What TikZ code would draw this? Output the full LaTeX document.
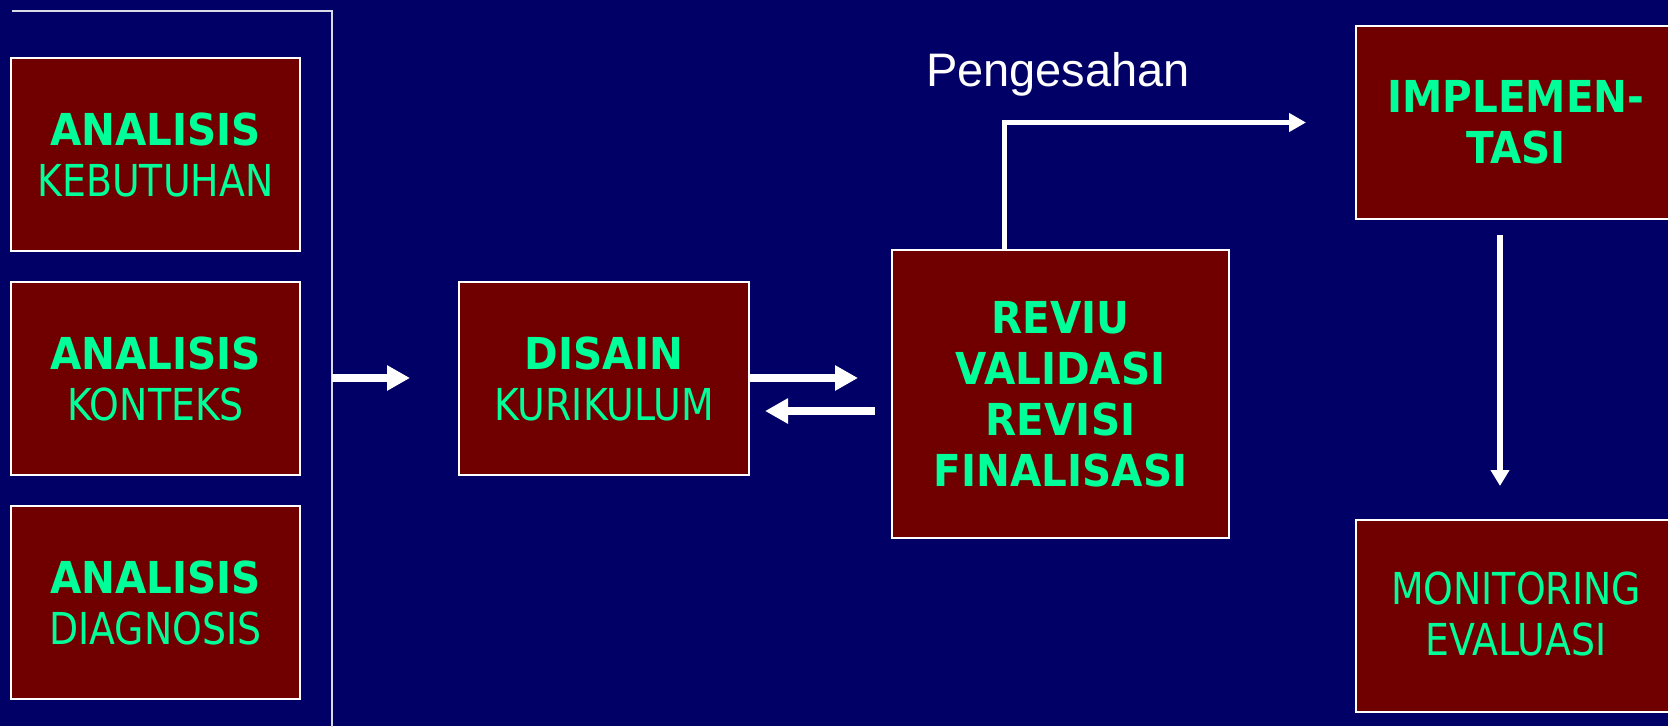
\documentclass[tikz,border=0pt]{standalone}
\usepackage{fontspec}
\usetikzlibrary{arrows.meta}
\newfontfamily\tahr[FakeStretch=0.86]{DejaVu Sans}
\newfontfamily\tahb[FakeStretch=0.92]{DejaVu Sans}
\newfontfamily\arialf{Liberation Sans}
\definecolor{bgnavy}{RGB}{0,0,102}
\definecolor{boxred}{RGB}{112,0,0}
\definecolor{boxgreen}{RGB}{0,255,153}
\newcommand{\bt}[1]{{\tahb\bfseries #1}}
\tikzset{
  blk/.style={draw=white, line width=2pt, fill=boxred, text=boxgreen,
    rectangle, inner sep=0pt, align=center,
    font=\fontsize{44}{51}\selectfont\tahr},
  bigarr/.style={draw=white, line width=8pt, -{Triangle[length=23pt,width=24pt]}},
  thinarr/.style={draw=white, line width=5pt, -{Triangle[length=17pt,width=18pt]}},
  bracketline/.style={draw=white!85!bgnavy, line width=2pt},
  lbl/.style={text=white, inner sep=0pt, font=\fontsize{47}{54}\selectfont\arialf}
}
\begin{document}
\begin{tikzpicture}[x=1pt,y=-1pt]
\useasboundingbox (0,0) rectangle (1668,726);
\fill[bgnavy] (0,0) rectangle (1668,726);
\clip (0,0) rectangle (1668,726);

% left bracket
\draw[bracketline] (12,10.5) -- (332,10.5) -- (332,740);
\coordinate (br) at (332,378);

% boxes
\node[blk, minimum width=289pt, minimum height=193pt] (a1) at (155.5,154.5) {\bt{ANALISIS}\\KEBUTUHAN};
\node[blk, minimum width=289pt, minimum height=193pt] (a2) at (155.5,378.5) {\bt{ANALISIS}\\KONTEKS};
\node[blk, minimum width=289pt, minimum height=193pt] (a3) at (155.5,602.5) {\bt{ANALISIS}\\DIAGNOSIS};
\node[blk, minimum width=290pt, minimum height=193pt] (dis) at (604,378.5) {\bt{DISAIN}\\KURIKULUM};
\node[blk, minimum width=337pt, minimum height=288pt] (rev) at (1060.5,394) {\bt{REVIU}\\\bt{VALIDASI}\\\bt{REVISI}\\\bt{FINALISASI}};
\node[blk, minimum width=320pt, minimum height=193pt] (imp) at (1516,122.5) {\bt{IMPLEMEN-}\\\bt{TASI}};
\node[blk, minimum width=320pt, minimum height=192pt] (mon) at (1516,616) {\raisebox{5pt}{MONITORING}\\\raisebox{5pt}{EVALUASI}};

% label
\node[lbl, anchor=base] (peng) at (1058,86) {Pengesahan};

% connectors
\draw[bigarr, shorten >=48pt] (br) -- (br -| dis.west);
\draw[bigarr, shorten >=33pt] (dis.east |- br) -- (rev.west |- br);
\draw[bigarr, shorten <=16pt, shorten >=15pt] ([yshift=-32.5pt]rev.west |- dis.east) -- ([yshift=-32.5pt]dis.east);
\draw[thinarr, shorten >=49pt] ([xshift=-56.5pt]rev.north) |- (imp.west);
\draw[draw=white, line width=6pt, -{Triangle[length=16pt,width=18pt]}, shorten <=15pt, shorten >=33pt]
  ([xshift=-16pt]imp.south) -- ([xshift=-16pt]mon.north);
\end{tikzpicture}
\end{document}
